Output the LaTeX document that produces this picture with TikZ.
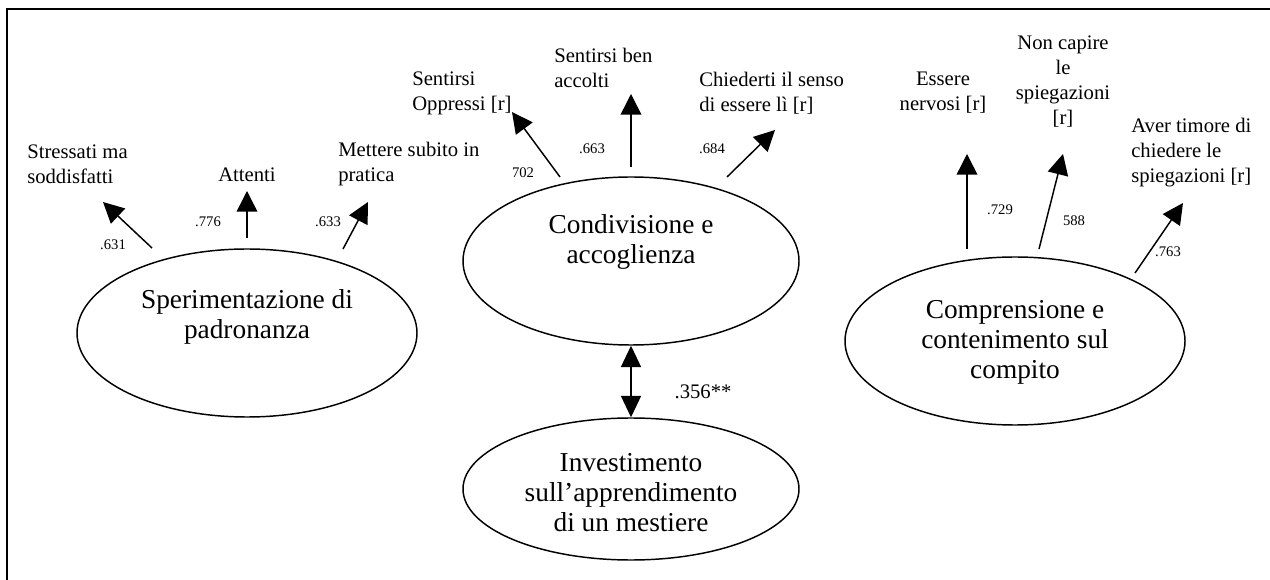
\documentclass[tikz,border=0pt]{standalone}
\usepackage{fontspec}
\setmainfont{Liberation Serif}
\usetikzlibrary{arrows.meta,shapes.geometric}
\begin{document}
\begin{tikzpicture}[x=0.75pt,y=-0.75pt,
  latent/.style={draw,ellipse,line width=1.1pt,inner sep=0pt},
  lbl/.style={inner sep=0pt,font=\fontsize{15.5}{18.75}\selectfont},
  ltxt/.style={inner sep=0pt,align=center,font=\fontsize{20.5}{22.5}\selectfont},
  num/.style={inner sep=0pt,font=\fontsize{11}{13}\selectfont},
  arr/.style={line width=1.1pt,-{Triangle[length=15.5pt,width=15.5pt]}},
  darr/.style={line width=1.1pt,{Triangle[length=16pt,width=15pt]}-{Triangle[length=16pt,width=15pt]}}]
\useasboundingbox (0,0) rectangle (1270,580);
\draw[line width=1.5pt] (7,580) -- (7,9) -- (1270,9);

% latent variables
\node[latent,minimum width=255pt,minimum height=126pt] (e1) at (247,333) {};
\node[latent,minimum width=252pt,minimum height=126pt] (e2) at (631,261) {};
\node[latent,minimum width=252pt,minimum height=106.5pt] (e4) at (631,489) {};
\node[latent,minimum width=255pt,minimum height=126pt] (e3) at (1015,341) {};

\node[ltxt] (t1) at (247,317) {Sperimentazione di\\padronanza};
\node[ltxt] (t2) at (631,242) {Condivisione e\\accoglienza};
\node[ltxt] (t4) at (631,493) {Investimento\\sull’apprendimento\\di un mestiere};
\node[ltxt] (t3) at (1015,342) {Comprensione e\\contenimento sul\\compito};

% indicator labels
\node[lbl,anchor=west,align=left] (i11) at (27,164.5) {Stressati ma\\soddisfatti};
\node[lbl] (i12) at (247,175) {Attenti};
\node[lbl,anchor=west,align=left] (i13) at (338,164.5) {Mettere subito in\\pratica};

\node[lbl,anchor=west,align=left] (i21) at (412,93) {Sentirsi\\Oppressi [r]};
\node[lbl,anchor=west,align=left] (i22) at (554,67.5) {Sentirsi ben\\accolti};
\node[lbl,anchor=west,align=left] (i23) at (699,93) {Chiederti il senso\\di essere lì [r]};

\node[lbl,align=center] (i31) at (943,92.5) {Essere\\nervosi [r]};
\node[lbl,align=center] (i32) at (1063,82) {Non capire\\le\\spiegazioni\\{[r]}};
\node[lbl,anchor=west,align=left] (i33) at (1131,153) {Aver timore di\\chiedere le\\spiegazioni [r]};

% arrow endpoints
\coordinate (s11) at (152,248); \coordinate (h11) at (103,202);
\coordinate (s12) at (247,238); \coordinate (h12) at (247,191);
\coordinate (s13) at (343,249); \coordinate (h13) at (368,202);
\coordinate (s21) at (560,177); \coordinate (h21) at (512,112);
\coordinate (s22) at (631,167); \coordinate (h22) at (631,94);
\coordinate (s23) at (727,177); \coordinate (h23) at (775,130);
\coordinate (s31) at (967,249); \coordinate (h31) at (967,154);
\coordinate (s32) at (1039,249); \coordinate (h32) at (1063,154);
\coordinate (s33) at (1135,273); \coordinate (h33) at (1183,203);

\foreach \i in {11,12,13,21,22,23,31,32,33} \draw[arr] (s\i) -- (h\i);

\draw[darr] (e2.south) -- (e4.north);

% loadings
\node[num] (n11) at (113,245) {.631};
\node[num] (n12) at (208,222) {.776};
\node[num] (n13) at (328,222) {.633};
\node[num] (n21) at (523,173) {702};
\node[num] (n22) at (592,149) {.663};
\node[num] (n23) at (712,149) {.684};
\node[num] (n31) at (1000,210) {.729};
\node[num] (n32) at (1074,221) {588};
\node[num] (n33) at (1168,252) {.763};
\node[lbl] (r24) at (703,392) {.356**};
\end{tikzpicture}
\end{document}
